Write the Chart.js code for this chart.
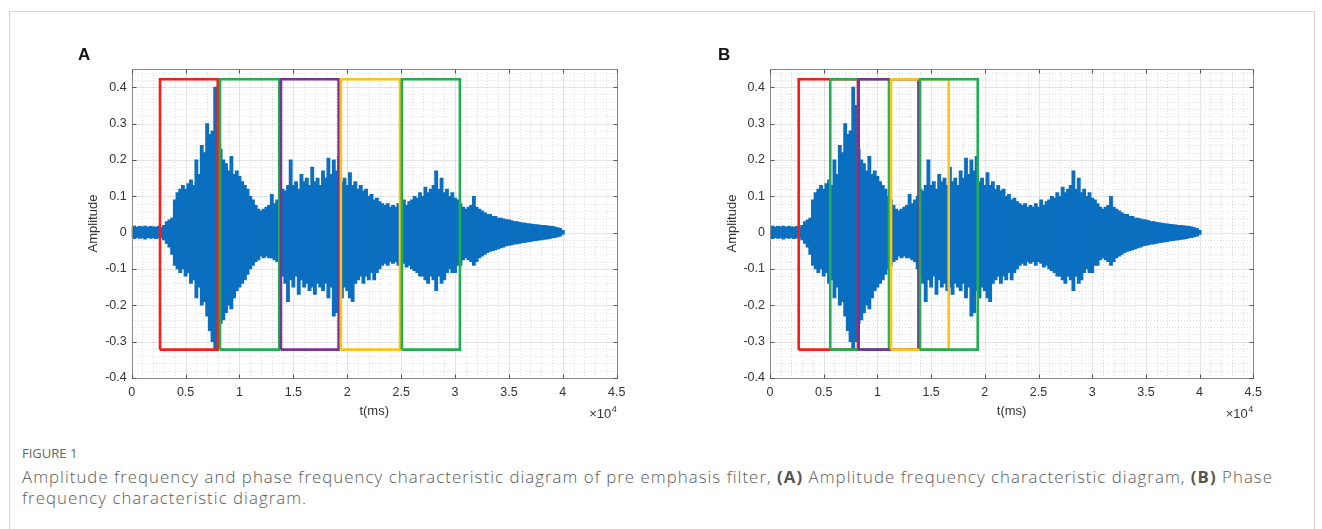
<!DOCTYPE html>
<html>
<head>
<meta charset="utf-8">
<title>Figure 1 - pre emphasis filter</title>
<script src="https://cdn.jsdelivr.net/npm/chart.js@4.4.0/dist/chart.umd.min.js"></script>
<style>
    body { margin:0; width:1322px; height:529px; overflow:hidden; position:relative; background:#fff; font-family:"Liberation Sans", Arial, sans-serif; }
    #frame { position:absolute; left:9px; top:11px; width:1304px; height:600px; border:1px solid #d6d6d6; border-bottom:none; }
    .panel { position:absolute; top:0; }
    .letter { position:absolute; top:45px; font:bold 17px "Liberation Sans", Arial, sans-serif; color:#111; }
    #capHead { position:absolute; left:22px; top:444px; font:13px "Open Sans", sans-serif; color:#666; }
    #cap { position:absolute; left:22px; top:466px; font:300 16.8px "Open Sans", Lato, sans-serif; color:#5a5a5a; line-height:21px; white-space:nowrap; }
    #cap b { font-weight:700; color:#555; }
</style>
</head>
<body>
<div id="frame"></div>
<canvas id="chartA" class="panel" style="left:0px" width="661" height="430"></canvas>
<canvas id="chartB" class="panel" style="left:661px" width="661" height="430"></canvas>
<div class="letter" style="left:78px">A</div>
<div class="letter" style="left:718px">B</div>
<div id="capHead">FIGURE 1</div>
<div id="cap"><span id="capLine1">Amplitude frequency and phase frequency characteristic diagram of pre emphasis filter, <b>(A)</b> Amplitude frequency characteristic diagram, <b>(B)</b> Phase</span><br>frequency characteristic diagram.</div>

<script>
// sampling grid of the envelope readings (samples)
const sampleStep = 250;

// upper envelope of the signal, one value every 250 samples (0 .. 40000)
const upperEnv = [
    0.016, 0.018, 0.015, 0.017, 0.016, 0.018, 0.015, 0.017, 0.016, 0.015,
    0.017, 0.014, 0.02, 0.03, 0.035, 0.04, 0.09, 0.11, 0.12, 0.13,
    0.12, 0.135, 0.145, 0.13, 0.2, 0.16, 0.24, 0.22, 0.3, 0.27,
    0.28, 0.4, 0.35, 0.23, 0.2, 0.19, 0.17, 0.21, 0.16, 0.17,
    0.155, 0.14, 0.13, 0.12, 0.1, 0.09, 0.075, 0.065, 0.06, 0.065,
    0.07, 0.075, 0.105, 0.08, 0.09, 0.1, 0.12, 0.115, 0.13, 0.2,
    0.13, 0.14, 0.12, 0.16, 0.14, 0.15, 0.13, 0.18, 0.14, 0.15,
    0.13, 0.17, 0.15, 0.205, 0.16, 0.2, 0.17, 0.21, 0.14, 0.15,
    0.13, 0.165, 0.13, 0.14, 0.12, 0.13, 0.115, 0.12, 0.1, 0.105,
    0.09, 0.095, 0.085, 0.08, 0.075, 0.08, 0.07, 0.075, 0.07, 0.08,
    0.07, 0.09, 0.075, 0.085, 0.09, 0.1, 0.095, 0.11, 0.1, 0.125,
    0.11, 0.12, 0.13, 0.17, 0.12, 0.15, 0.11, 0.12, 0.1, 0.11,
    0.095, 0.09, 0.08, 0.07, 0.065, 0.07, 0.075, 0.1, 0.07, 0.065,
    0.06, 0.055, 0.05, 0.05, 0.045, 0.045, 0.04, 0.04, 0.038, 0.036,
    0.035, 0.033, 0.03, 0.03, 0.028, 0.027, 0.026, 0.025, 0.024, 0.023,
    0.022, 0.021, 0.02, 0.02, 0.019, 0.018, 0.017, 0.016, 0.014, 0.012,
    0.006
];

// lower envelope, same sampling
const lowerEnv = [
    -0.015, -0.017, -0.014, -0.016, -0.015, -0.018, -0.014, -0.016, -0.015, -0.017,
    -0.015, -0.015, -0.02, -0.03, -0.04, -0.06, -0.09, -0.1, -0.11, -0.1,
    -0.12, -0.11, -0.14, -0.13, -0.18, -0.15, -0.2, -0.19, -0.23, -0.27,
    -0.3, -0.32, -0.3, -0.25, -0.24, -0.22, -0.2, -0.21, -0.18, -0.16,
    -0.15, -0.14, -0.13, -0.115, -0.1, -0.09, -0.08, -0.075, -0.065, -0.07,
    -0.065, -0.07, -0.07, -0.075, -0.08, -0.1, -0.12, -0.14, -0.19, -0.13,
    -0.15, -0.12, -0.17, -0.13, -0.15, -0.14, -0.16, -0.15, -0.17, -0.14,
    -0.15, -0.16, -0.14, -0.18, -0.15, -0.23, -0.22, -0.16, -0.18, -0.15,
    -0.16, -0.18, -0.19, -0.14, -0.13, -0.12, -0.14, -0.12, -0.13, -0.11,
    -0.13, -0.11, -0.1, -0.09, -0.085, -0.09, -0.08, -0.085, -0.08, -0.09,
    -0.08, -0.085, -0.095, -0.09, -0.1, -0.105, -0.11, -0.12, -0.12, -0.13,
    -0.14, -0.12, -0.13, -0.16, -0.12, -0.14, -0.13, -0.11, -0.1, -0.11,
    -0.11, -0.09, -0.09, -0.075, -0.07, -0.075, -0.08, -0.09, -0.08, -0.07,
    -0.065, -0.06, -0.055, -0.052, -0.05, -0.048, -0.045, -0.042, -0.04, -0.037,
    -0.035, -0.034, -0.032, -0.031, -0.03, -0.028, -0.027, -0.026, -0.025, -0.023,
    -0.022, -0.021, -0.02, -0.019, -0.018, -0.017, -0.015, -0.014, -0.012, -0.01,
    -0.005
];

// tick values
const xTickVals = [0, 5000, 10000, 15000, 20000, 25000, 30000, 35000, 40000, 45000];
const yTickVals = [-0.4, -0.3, -0.2, -0.1, 0, 0.1, 0.2, 0.3, 0.4];

// marked frames (samples)
const boxTop = 0.422, boxBottom = -0.322;
const boxStartA = [2625, 8190, 13850, 19410, 25070];
const boxEndA   = [7980, 13690, 19200, 24890, 30450];
const boxColorA = ['#ff1a1a', '#1fae52', '#7b3294', '#ffc314', '#1fae52'];

const boxStartB = [2670, 5610, 8260, 11270, 13970];
const boxEndB   = [8190, 11080, 13820, 16640, 19340];
const boxColorB = ['#ff1a1a', '#1fae52', '#7b3294', '#ffc314', '#1fae52'];

const waveColor = '#0b6fc0';
const labelFont = '"Liberation Sans", Arial, sans-serif';

// grid + inward ticks + axis titles, MATLAB style
const matlabAxes = {
    id: 'matlabAxes',
    beforeDatasetsDraw(chart) {
        const {ctx, chartArea: a, scales: {x, y}} = chart;
        ctx.save();
        ctx.lineWidth = 1;
        ctx.setLineDash([1, 2]);
        ctx.strokeStyle = 'rgba(0,0,0,0.13)';
        for (let v = 1000; v < 45000; v += 1000) {
            if (v % 5000 === 0) continue;
            const px = Math.round(x.getPixelForValue(v)) + 0.5;
            ctx.beginPath(); ctx.moveTo(px, a.top); ctx.lineTo(px, a.bottom); ctx.stroke();
        }
        for (let k = -20; k <= 22; k++) {
            if (k % 5 === 0) continue;
            const py = Math.round(y.getPixelForValue(k * 0.02)) + 0.5;
            ctx.beginPath(); ctx.moveTo(a.left, py); ctx.lineTo(a.right, py); ctx.stroke();
        }
        ctx.setLineDash([]);
        ctx.strokeStyle = 'rgba(0,0,0,0.10)';
        xTickVals.forEach(v => {
            const px = Math.round(x.getPixelForValue(v)) + 0.5;
            ctx.beginPath(); ctx.moveTo(px, a.top); ctx.lineTo(px, a.bottom); ctx.stroke();
        });
        yTickVals.forEach(v => {
            const py = Math.round(y.getPixelForValue(v)) + 0.5;
            ctx.beginPath(); ctx.moveTo(a.left, py); ctx.lineTo(a.right, py); ctx.stroke();
        });
        ctx.restore();
    },
    afterDraw(chart) {
        const {ctx, chartArea: a, scales: {x, y}} = chart;
        ctx.save();
        ctx.strokeStyle = '#8a8a8a';
        ctx.lineWidth = 1;
        const L = Math.round(a.left) + 0.5, R = Math.round(a.right) + 0.5;
        const T = Math.round(a.top) + 0.5, B = Math.round(a.bottom) + 0.5;
        ctx.strokeRect(L, T, R - L, B - T);
        ctx.strokeStyle = '#555';
        xTickVals.forEach(v => {
            const px = Math.round(x.getPixelForValue(v)) + 0.5;
            ctx.beginPath();
            ctx.moveTo(px, B); ctx.lineTo(px, B - 4);
            ctx.moveTo(px, T); ctx.lineTo(px, T + 4);
            ctx.stroke();
        });
        yTickVals.forEach(v => {
            const py = Math.round(y.getPixelForValue(v)) + 0.5;
            ctx.beginPath();
            ctx.moveTo(L, py); ctx.lineTo(L + 4, py);
            ctx.moveTo(R, py); ctx.lineTo(R - 4, py);
            ctx.stroke();
        });
        // axis titles
        ctx.fillStyle = '#333';
        ctx.font = '13px ' + labelFont;
        ctx.textAlign = 'center';
        ctx.textBaseline = 'middle';
        ctx.fillText('t(ms)', (a.left + a.right) / 2, a.bottom + 33);
        ctx.save();
        ctx.translate(a.left - 38, (a.top + a.bottom) / 2);
        ctx.rotate(-Math.PI / 2);
        ctx.fillText('Amplitude', 0, 0);
        ctx.restore();
        // exponent label
        ctx.textAlign = 'right';
        ctx.textBaseline = 'alphabetic';
        ctx.font = '9px ' + labelFont;
        ctx.fillText('4', a.right, a.bottom + 34);
        const w4 = ctx.measureText('4').width;
        ctx.font = '13px ' + labelFont;
        ctx.fillText('\u00d710', a.right - w4 - 0.5, a.bottom + 40);
        ctx.restore();
    }
};

function makeChart(canvasId, leftW, rightPad, starts, ends, colors) {
    let wave = [];
    for (let i = 0; i < upperEnv.length; i++) {
        wave.push({x: i * sampleStep, y: [lowerEnv[i], upperEnv[i]]});
    }
    let datasets = [{
        type: 'bar',
        data: wave,
        backgroundColor: waveColor,
        borderWidth: 0,
        barThickness: 3.2,
        grouped: false,
        order: 100
    }];
    for (let i = 0; i < starts.length; i++) {
        datasets.push({
            type: 'line',
            data: [
                {x: starts[i], y: boxBottom}, {x: starts[i], y: boxTop},
                {x: ends[i], y: boxTop}, {x: ends[i], y: boxBottom},
                {x: starts[i], y: boxBottom}
            ],
            borderColor: colors[i],
            borderWidth: 2.6,
            pointRadius: 0,
            fill: false,
            tension: 0,
            borderJoinStyle: 'miter',
            order: 10 - i
        });
    }
    return new Chart(document.getElementById(canvasId), {
        type: 'bar',
        data: { datasets: datasets },
        options: {
            responsive: false,
            animation: false,
            events: [],
            layout: { padding: { left: 0, top: 69, right: rightPad, bottom: 0 } },
            plugins: { legend: { display: false }, tooltip: { enabled: false } },
            scales: {
                x: {
                    type: 'linear', min: 0, max: 45000, offset: false,
                    afterFit: s => { s.height = 52; },
                    afterBuildTicks: s => { s.ticks = xTickVals.map(v => ({value: v})); },
                    grid: { display: false, drawTicks: false },
                    border: { display: false },
                    ticks: {
                        autoSkip: false, maxRotation: 0, padding: 7,
                        color: '#333', font: { size: 12.5, family: labelFont },
                        callback: v => String(+(v / 10000).toFixed(1))
                    }
                },
                y: {
                    type: 'linear', min: -0.4, max: 0.45,
                    afterFit: s => { s.width = leftW; },
                    afterBuildTicks: s => { s.ticks = yTickVals.map(v => ({value: v})); },
                    grid: { display: false, drawTicks: false },
                    border: { display: false },
                    ticks: {
                        padding: 5,
                        color: '#333', font: { size: 12.5, family: labelFont },
                        callback: v => String(+v.toFixed(1))
                    }
                }
            }
        },
        plugins: [matlabAxes]
    });
}

makeChart('chartA', 131.7, 44.3, boxStartA, boxEndA, boxColorA);
makeChart('chartB', 109, 68.7, boxStartB, boxEndB, boxColorB);

// stretch the caption's first line to the reference width with letter spacing
const line1 = document.getElementById('capLine1');
const cap = document.getElementById('cap');
const w = line1.getBoundingClientRect().width;
const nChars = line1.textContent.length;
cap.style.letterSpacing = ((1251 - w) / nChars).toFixed(3) + 'px';
</script>
</body>
</html>
